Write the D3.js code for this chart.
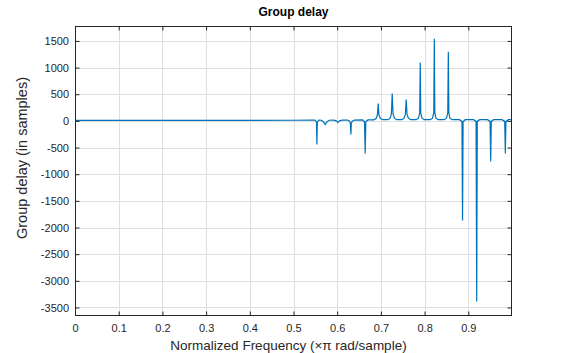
<!DOCTYPE html>
<html>
<head>
<meta charset="utf-8">
<script src="https://cdn.jsdelivr.net/npm/d3@7"></script>
<style>
  body { margin: 0; background: #fff; }
  svg { display: block; font-family: "Liberation Sans", Arial, sans-serif; }
</style>
</head>
<body>
<svg id="chart" width="577" height="353"></svg>
<script>
// Group delay response
const freq = [
  0, 0.5, 0.545,
  0.549, 0.5525, 0.5535, 0.5545, 0.558,
  0.564, 0.569, 0.5725, 0.576, 0.582,
  0.592, 0.598, 0.6016, 0.605, 0.612,
  0.624, 0.629, 0.6303, 0.6313, 0.6323, 0.634, 0.639,
  0.658, 0.6625, 0.664, 0.6655, 0.670,
  0.684, 0.689, 0.692, 0.6938, 0.6956, 0.699, 0.704,
  0.716, 0.721, 0.724, 0.7259, 0.7278, 0.731, 0.736,
  0.748, 0.753, 0.756, 0.7579, 0.7598, 0.763, 0.768,
  0.781, 0.786, 0.7888, 0.79, 0.7912, 0.794, 0.799,
  0.813, 0.818, 0.821, 0.8222, 0.8234, 0.826, 0.831,
  0.845, 0.850, 0.853, 0.8543, 0.8555, 0.858, 0.863,
  0.880, 0.8855, 0.8868, 0.8881, 0.893,
  0.912, 0.9178, 0.9192, 0.9206, 0.926,
  0.944, 0.9498, 0.9512, 0.9526, 0.958,
  0.977, 0.9833, 0.9847, 0.9861, 0.992, 0.998
];
const delay = [
  8, 12, 15,
  15, -20, -444, -20, 15,
  12, -20, -70, -20, 12,
  14, 0, -32, 0, 14,
  15, -10, -60, -257, -60, -10, 15,
  18, -15, -613, -15, 18,
  20, 45, 110, 324, 110, 45, 22,
  22, 50, 130, 512, 130, 50, 22,
  22, 50, 120, 400, 120, 50, 22,
  22, 50, 150, 1093, 150, 50, 22,
  22, 50, 150, 1543, 150, 50, 22,
  22, 50, 150, 1299, 150, 50, 22,
  22, -10, -1869, -10, 22,
  22, -10, -3388, -10, 22,
  22, -10, -763, -10, 22,
  22, -10, -613, -10, 22, 22
];
const xTicks = [0, 0.1, 0.2, 0.3, 0.4, 0.5, 0.6, 0.7, 0.8, 0.9];
const yTicks = [1500, 1000, 500, 0, -500, -1000, -1500, -2000, -2500, -3000, -3500];

const svg = d3.select("#chart");
const margin = { left: 75, right: 65, top: 26, bottom: 37 };
const width = 577, height = 353;
const x0 = margin.left, x1 = width - margin.right;
const y0 = height - margin.bottom, y1 = margin.top;

const x = d3.scaleLinear().domain([0, 1]).range([x0, x1]);
const y = d3.scaleLinear().domain([-3660, 1780]).range([y0, y1]);

const data = freq.map((f, i) => ({ f, d: delay[i] }));

// Grid
const grid = svg.append("g").attr("stroke", "#dfdfdf").attr("stroke-width", 1);
grid.selectAll(".gx").data(xTicks.slice(1))
  .join("line")
  .attr("x1", d => Math.round(x(d)) + 0.5).attr("x2", d => Math.round(x(d)) + 0.5)
  .attr("y1", y1).attr("y2", y0);
grid.selectAll(".gy").data(yTicks)
  .join("line")
  .attr("x1", x0).attr("x2", x1)
  .attr("y1", d => Math.round(y(d)) + 0.5).attr("y2", d => Math.round(y(d)) + 0.5);

// Data line
svg.append("clipPath").attr("id", "clip")
  .append("rect").attr("x", x0).attr("y", y1).attr("width", x1 - x0).attr("height", y0 - y1);

const line = d3.line().x(d => x(d.f)).y(d => y(d.d));
svg.append("path")
  .datum(data)
  .attr("clip-path", "url(#clip)")
  .attr("fill", "none")
  .attr("stroke", "#0072BD")
  .attr("stroke-width", 1.2)
  .attr("d", line);

// Axes (ticks inward, box on)
const tickLen = 4.5;
const axisColor = "#262626";
const xAxisB = d3.axisBottom(x).tickValues(xTicks).tickSize(-tickLen).tickPadding(8).tickFormat(d => String(d));
const xAxisT = d3.axisTop(x).tickValues(xTicks).tickSize(-tickLen).tickFormat("");
const yAxisL = d3.axisLeft(y).tickValues(yTicks).tickSize(-tickLen).tickPadding(6).tickFormat(d => String(d));
const yAxisR = d3.axisRight(y).tickValues(yTicks).tickSize(-tickLen).tickFormat("");

function styleAxis(g) {
  g.select(".domain").remove();
  g.selectAll("line").attr("stroke", axisColor);
  g.selectAll("text").attr("fill", axisColor).style("font-size", "11px");
}

svg.append("g").attr("transform", `translate(0,${y0})`).call(xAxisB).call(styleAxis);
svg.append("g").attr("transform", `translate(0,${y1})`).call(xAxisT).call(styleAxis);
svg.append("g").attr("transform", `translate(${x0},0)`).call(yAxisL).call(styleAxis);
svg.append("g").attr("transform", `translate(${x1},0)`).call(yAxisR).call(styleAxis);

// Frame
svg.append("rect")
  .attr("x", x0 + 0.5).attr("y", y1 + 0.5)
  .attr("width", x1 - x0 - 1).attr("height", y0 - y1 - 1)
  .attr("fill", "none").attr("stroke", axisColor).attr("stroke-width", 1);

// Labels
svg.append("text")
  .attr("x", (x0 + x1) / 2).attr("y", 16)
  .attr("text-anchor", "middle")
  .attr("fill", "#000")
  .style("font-size", "12px").style("font-weight", "bold")
  .text("Group delay");

svg.append("text")
  .attr("x", (x0 + x1) / 2 - 5).attr("y", 350)
  .attr("text-anchor", "middle")
  .attr("fill", axisColor)
  .style("font-size", "13.5px")
  .text("Normalized Frequency (\u00d7\u03c0 rad/sample)");

svg.append("text")
  .attr("transform", "rotate(-90)")
  .attr("x", -158).attr("y", 27)
  .attr("text-anchor", "middle")
  .attr("fill", axisColor)
  .style("font-size", "14.5px")
  .text("Group delay (in samples)");
</script>
</body>
</html>
